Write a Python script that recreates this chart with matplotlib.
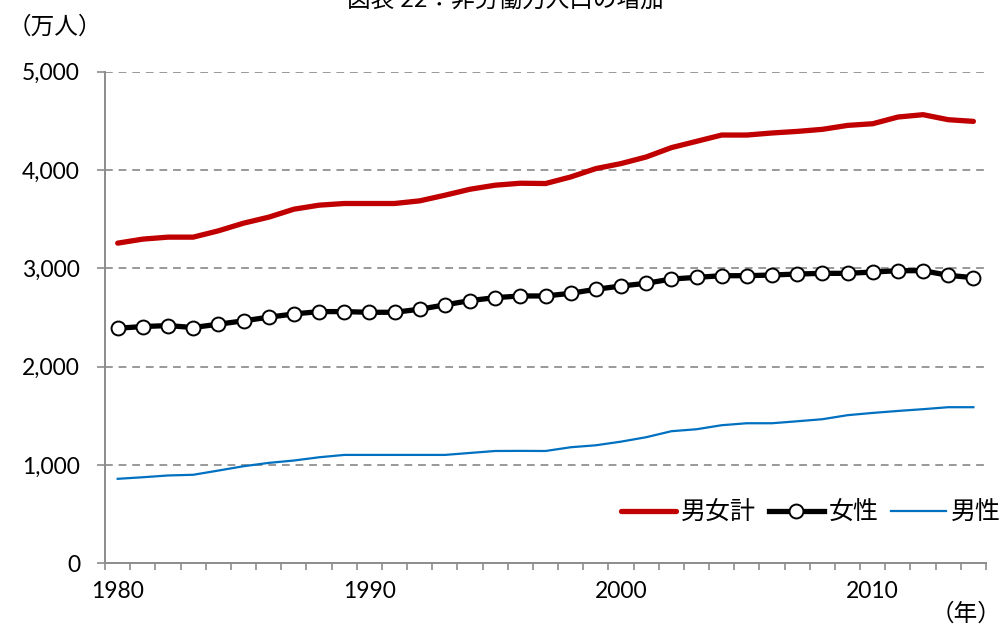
import matplotlib
matplotlib.use("Agg")
import matplotlib.pyplot as plt
from matplotlib.ticker import FuncFormatter

# -----------------------------
# data (万人)
# -----------------------------
years = list(range(1980, 2015))
total = [3255, 3296, 3316, 3316, 3380, 3458, 3519, 3600, 3641, 3658,
         3658, 3658, 3685, 3742, 3803, 3844, 3864, 3861, 3928, 4013,
         4064, 4131, 4226, 4290, 4354, 4354, 4375, 4391, 4412, 4452,
         4469, 4537, 4561, 4510, 4493]
female = [2390, 2407, 2417, 2397, 2431, 2465, 2502, 2535, 2559, 2559,
          2552, 2552, 2583, 2627, 2671, 2701, 2718, 2718, 2745, 2786,
          2819, 2847, 2890, 2907, 2924, 2924, 2931, 2941, 2948, 2948,
          2961, 2975, 2975, 2928, 2904]
male = [859, 875, 893, 900, 943, 987, 1021, 1045, 1078, 1102,
        1102, 1102, 1102, 1102, 1122, 1142, 1143, 1142, 1180, 1200,
        1237, 1282, 1343, 1363, 1404, 1424, 1424, 1444, 1465, 1506,
        1529, 1549, 1567, 1587, 1587]
series_names = ["男女計", "女性", "男性"]
label_years = [1980, 1990, 2000, 2010]
yticks = [0, 1000, 2000, 3000, 4000, 5000]

plt.rcParams["font.family"] = ["Lato", "Noto Sans CJK JP", "DejaVu Sans"]

AXIS_GRAY = "#8c8c8c"

fig = plt.figure(figsize=(10.01, 6.25), dpi=100)
ax = fig.add_axes([0.105, 0.0987, 0.880, 0.7869])

ax.plot(years, total, color="#C00000", lw=3.8, solid_capstyle="round",
        label=series_names[0], zorder=3)
ax.plot(years, female, color="black", lw=3.8, marker="o", markersize=10,
        markerfacecolor="white", markeredgecolor="black", markeredgewidth=1.4,
        label=series_names[1], zorder=4)
ax.plot(years, male, color="#0070C0", lw=1.6, label=series_names[2], zorder=3)

ax.set_xlim(years[0] - 0.5, years[-1] + 0.5)
ax.set_ylim(0, 5000)

# x: tick marks at category boundaries, labels at category centres
ax.set_xticks([y - 0.5 for y in years] + [years[-1] + 0.5])
ax.set_xticklabels([])
ax.set_xticks(label_years, minor=True)
ax.set_xticklabels([str(y) for y in label_years], minor=True)
ax.tick_params(axis="x", which="major", direction="out", length=5,
               width=1.2, color=AXIS_GRAY)
ax.tick_params(axis="x", which="minor", length=0, pad=13, labelsize=16.5)

ax.set_yticks(yticks)
ax.yaxis.set_major_formatter(FuncFormatter(lambda v, p: f"{int(v):,}"))
ax.tick_params(axis="y", direction="out", length=6, width=1.2,
               color=AXIS_GRAY, labelsize=16.5, pad=12)

for s in ["top", "right"]:
    ax.spines[s].set_visible(False)
for s in ["left", "bottom"]:
    ax.spines[s].set_color(AXIS_GRAY)
    ax.spines[s].set_linewidth(1.4)

for v in yticks[1:]:
    ax.axhline(v, color="#999999", lw=1.4, ls=(0, (4, 3)), zorder=1)

handles, labels = ax.get_legend_handles_labels()
fig.legend(handles, labels, loc="center right",
           bbox_to_anchor=(1.0, 1 - 512 / 625), ncol=3,
           frameon=False, fontsize=18, handlelength=2.2,
           handletextpad=0.2, columnspacing=0.5, borderpad=0,
           borderaxespad=0)

fig.text(0.008, 0.957, "（万人）", fontsize=17, ha="left", va="center")
fig.text(1.0, 0.019, "（年）", fontsize=17, ha="right", va="center")
fig.text(0.505, 1 - 8 / 625, "図表 22：非労働力人口の増加", fontsize=17,
         ha="center", va="baseline")

fig.savefig("out.png", dpi=100)
